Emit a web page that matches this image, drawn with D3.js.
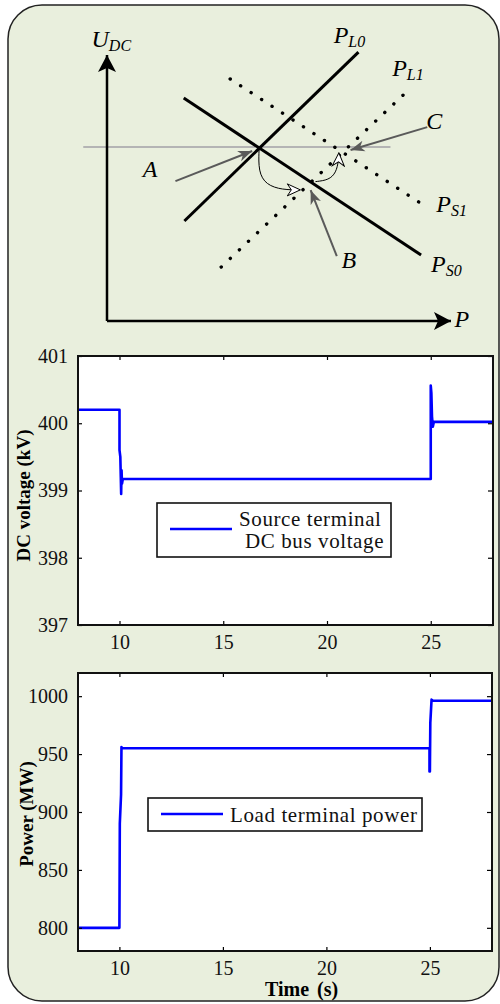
<!DOCTYPE html>
<html>
<head>
<meta charset="utf-8">
<script src="https://cdn.jsdelivr.net/npm/d3@7"></script>
<style>
  body { margin: 0; background: #fff; }
  svg text { font-family: "Liberation Serif", "Times New Roman", serif; }
</style>
</head>
<body>
<svg id="fig" width="500" height="1004"></svg>
<script>
// ---- data: DC voltage at the source terminal (kV)
const vTime  = [8, 10.0, 10.0, 10.04, 10.08, 10.1, 10.12, 10.16, 25.0, 25.0, 25.03, 25.06, 25.1, 25.15, 28];
const vValue = [400.2, 400.2, 399.6, 399.5, 398.95, 399.3, 399.1, 399.17, 399.17, 400.56, 400.45, 400.1, 399.95, 400.02, 400.02];

// ---- data: load terminal power (MW)
const pTime  = [8, 10.0, 10.02, 10.08, 10.1, 10.15, 24.98, 24.98, 25.0, 25.02, 25.08, 25.15, 28];
const pValue = [800, 800, 890, 915, 956, 955, 955, 935, 935, 977, 997, 996, 996];

const xTicks = [10, 15, 20, 25];
const vTicks = [397, 398, 399, 400, 401];
const pTicks = [800, 850, 900, 950, 1000];

// ---- schematic (P-U plane, arbitrary units 0..10)
const opVoltage = [[-0.69, 6.54], [8.24, 6.54]];
const lineL0 = [[2.25, 3.76], [7.31, 10.11]];
const lineS0 = [[2.23, 8.38], [9.13, 2.48]];
const lineS1 = [[3.58, 9.10], [9.28, 4.29]];
const lineL1 = [[3.32, 2.03], [8.64, 8.53]];
const pathAB = [[4.42, 6.43], [4.40, 5.62], [4.62, 5.12], [5.10, 4.93], [5.62, 4.93]];
const pathBC = [[6.06, 5.24], [6.45, 5.30], [6.66, 5.58], [6.73, 6.02], [6.74, 6.32]];
const pointerA = [[1.99, 5.26], [4.22, 6.39]];
const pointerB = [[6.68, 2.44], [5.92, 4.92]];
const pointerC = [[9.31, 7.29], [7.08, 6.43]];
const labels = [
  { t: "U", sub: "DC", at: [-0.45, 10.3] },
  { t: "P", sub: "L0", at: [6.59, 10.45] },
  { t: "P", sub: "L1", at: [8.29, 9.21] },
  { t: "C", sub: "",   at: [9.28, 7.22] },
  { t: "P", sub: "S1", at: [9.57, 4.10] },
  { t: "P", sub: "S0", at: [9.42, 1.84] },
  { t: "B", sub: "",   at: [6.82, 1.99] },
  { t: "A", sub: "",   at: [1.04, 5.41] },
  { t: "P", sub: "",   at: [10.1, -0.24] }
];

const serif = "'Liberation Serif', 'Times New Roman', serif";
const svg = d3.select("#fig");

// background frame
svg.append("rect")
  .attr("x", 8).attr("y", 5).attr("width", 491).attr("height", 996)
  .attr("rx", 34).attr("ry", 34)
  .attr("fill", "#e9efdd").attr("stroke", "#222").attr("stroke-width", 1.5);

// markers
const defs = svg.append("defs");
defs.append("marker").attr("id", "axisHead")
  .attr("markerUnits", "userSpaceOnUse").attr("viewBox", "-17 -10 18 20")
  .attr("markerWidth", 18).attr("markerHeight", 20).attr("refX", 0).attr("refY", 0)
  .attr("orient", "auto")
  .append("path").attr("d", "M0,0 L-17,-9 L-13,0 L-17,9 Z").attr("fill", "#000");
defs.append("marker").attr("id", "grayHead")
  .attr("markerUnits", "userSpaceOnUse").attr("viewBox", "-14 -6 15 12")
  .attr("markerWidth", 15).attr("markerHeight", 12).attr("refX", 0).attr("refY", 0)
  .attr("orient", "auto")
  .append("path").attr("d", "M0,0 L-14,-5.5 L-10,0 L-14,5.5 Z").attr("fill", "#5a5a5a");
defs.append("marker").attr("id", "openHead")
  .attr("markerUnits", "userSpaceOnUse").attr("viewBox", "-14 -7 15 14")
  .attr("markerWidth", 15).attr("markerHeight", 14).attr("refX", 0).attr("refY", 0)
  .attr("orient", "auto")
  .append("path").attr("d", "M0,0 L-13,-6 L-9,0 L-13,6 Z")
  .attr("fill", "#fff").attr("stroke", "#000").attr("stroke-width", 1);

// ---- schematic
const sx = d3.scaleLinear().domain([0, 10]).range([107, 451]);
const sy = d3.scaleLinear().domain([0, 10]).range([321, 55]);
const sLine = d3.line().x(d => sx(d[0])).y(d => sy(d[1]));
const sCurve = d3.line().x(d => sx(d[0])).y(d => sy(d[1])).curve(d3.curveMonotoneY);

const diag = svg.append("g");

diag.append("path").attr("d", sLine(opVoltage))
  .attr("stroke", "#b4b4b4").attr("stroke-width", 2).attr("fill", "none");

diag.append("path").attr("d", sLine([[0, 0], [0, 10]]))
  .attr("stroke", "#000").attr("stroke-width", 2.5).attr("fill", "none")
  .attr("marker-end", "url(#axisHead)");
diag.append("path").attr("d", sLine([[0, 0], [10, 0]]))
  .attr("stroke", "#000").attr("stroke-width", 2.5).attr("fill", "none")
  .attr("marker-end", "url(#axisHead)");

[lineL0, lineS0].forEach(l => diag.append("path").attr("d", sLine(l))
  .attr("stroke", "#000").attr("stroke-width", 3).attr("fill", "none"));

[lineS1, lineL1].forEach(l => diag.append("path").attr("d", sLine(l))
  .attr("stroke", "#000").attr("stroke-width", 3.4).attr("fill", "none")
  .attr("stroke-linecap", "round").attr("stroke-dasharray", "0.1 12.4"));

[pathAB, pathBC].forEach(l => diag.append("path")
  .attr("d", d3.line().x(d => sx(d[0])).y(d => sy(d[1])).curve(d3.curveBasis)(l))
  .attr("stroke", "#000").attr("stroke-width", 1).attr("fill", "none")
  .attr("marker-end", "url(#openHead)"));

[pointerA, pointerB, pointerC].forEach(l => diag.append("path").attr("d", sLine(l))
  .attr("stroke", "#5a5a5a").attr("stroke-width", 2).attr("fill", "none")
  .attr("marker-end", "url(#grayHead)"));

labels.forEach(d => {
  const t = diag.append("text")
    .attr("x", sx(d.at[0])).attr("y", sy(d.at[1]))
    .style("font-family", serif)
    .attr("font-style", "italic").attr("font-size", 24).attr("fill", "#000");
  t.append("tspan").text(d.t);
  if (d.sub) t.append("tspan").attr("font-size", 16).attr("dy", 4).text(d.sub);
});

// ---- time-series charts
function drawChart(o) {
  const x = d3.scaleLinear().domain([8, 28]).range([o.left, o.right]);
  const y = d3.scaleLinear().domain(o.yDomain).range([o.bottom, o.top]);
  const g = svg.append("g");

  g.append("rect").attr("x", o.left).attr("y", o.top)
    .attr("width", o.right - o.left).attr("height", o.bottom - o.top).attr("fill", "#fff");

  const line = d3.line().x(d => x(d[0])).y(d => y(d[1]));
  g.append("path").datum(d3.zip(o.times, o.values))
    .attr("d", line).attr("fill", "none")
    .attr("stroke", "#0000ff").attr("stroke-width", 2.6).attr("stroke-linejoin", "round");

  const styleAxis = (sel, labelled) => {
    sel.attr("font-family", null);
    sel.select(".domain").remove();
    sel.selectAll(".tick line").attr("stroke", "#000").attr("stroke-width", 1.2);
    if (labelled) sel.selectAll(".tick text").attr("font-size", 20).attr("fill", "#111")
      .style("font-family", serif);
    else sel.selectAll(".tick text").remove();
  };
  const fmt = d3.format("d");

  g.append("g").attr("transform", `translate(0,${o.bottom})`)
    .call(d3.axisBottom(x).tickValues(xTicks).tickFormat(fmt).tickSize(-4).tickPadding(10))
    .call(s => styleAxis(s, true));
  g.append("g").attr("transform", `translate(0,${o.top})`)
    .call(d3.axisTop(x).tickValues(xTicks).tickSize(-4))
    .call(s => styleAxis(s, false));
  g.append("g").attr("transform", `translate(${o.left},0)`)
    .call(d3.axisLeft(y).tickValues(o.yTicks).tickFormat(fmt).tickSize(-4).tickPadding(10))
    .call(s => styleAxis(s, true));
  g.append("g").attr("transform", `translate(${o.right},0)`)
    .call(d3.axisRight(y).tickValues(o.yTicks).tickSize(-5))
    .call(s => styleAxis(s, false));

  g.append("rect").attr("x", o.left).attr("y", o.top)
    .attr("width", o.right - o.left).attr("height", o.bottom - o.top)
    .attr("fill", "none").attr("stroke", "#111").attr("stroke-width", 2);

  g.append("text")
    .attr("transform", `translate(${o.yLabelX},${(o.top + o.bottom) / 2 + o.yLabelShift}) rotate(-90)`)
    .style("font-family", serif)
    .attr("text-anchor", "middle").attr("font-weight", "bold").attr("font-size", 19)
    .text(o.yLabel);

  // legend
  const lg = o.legend;
  g.append("rect").attr("x", lg.x0).attr("y", lg.y0)
    .attr("width", lg.x1 - lg.x0).attr("height", lg.y1 - lg.y0)
    .attr("fill", "#fff").attr("stroke", "#111").attr("stroke-width", 1.6);
  g.append("line").attr("x1", lg.x0 + 13).attr("x2", lg.x0 + 75)
    .attr("y1", lg.lineY).attr("y2", lg.lineY)
    .attr("stroke", "#0000ff").attr("stroke-width", 2.6);
  lg.text.forEach((s, i) => g.append("text")
    .attr("x", lg.textX[i]).attr("y", lg.textY[i])
    .style("font-family", serif)
    .attr("font-size", 21).attr("letter-spacing", 0.6).attr("fill", "#111").text(s));
  return x;
}

drawChart({
  left: 78, right: 493, top: 356, bottom: 625,
  yDomain: [397, 401], yTicks: vTicks, times: vTime, values: vValue,
  yLabel: "DC voltage (kV)", yLabelX: 30, yLabelShift: 5,
  legend: { x0: 157, x1: 391, y0: 503, y1: 557, lineY: 529,
            text: ["Source terminal", "DC bus voltage"], textX: [239, 245], textY: [526, 548] }
});

const xb = drawChart({
  left: 78, right: 492, top: 673, bottom: 951,
  yDomain: [780, 1020], yTicks: pTicks, times: pTime, values: pValue,
  yLabel: "Power (MW)", yLabelX: 33, yLabelShift: 2,
  legend: { x0: 148, x1: 422, y0: 798, y1: 831, lineY: 814,
            text: ["Load terminal power"], textX: [230], textY: [822] }
});

svg.append("text").attr("x", xb(18.8)).attr("y", 996)
  .style("font-family", serif)
  .attr("text-anchor", "middle").attr("font-weight", "bold").attr("font-size", 20)
  .attr("word-spacing", 3).text("Time (s)");
</script>
</body>
</html>
